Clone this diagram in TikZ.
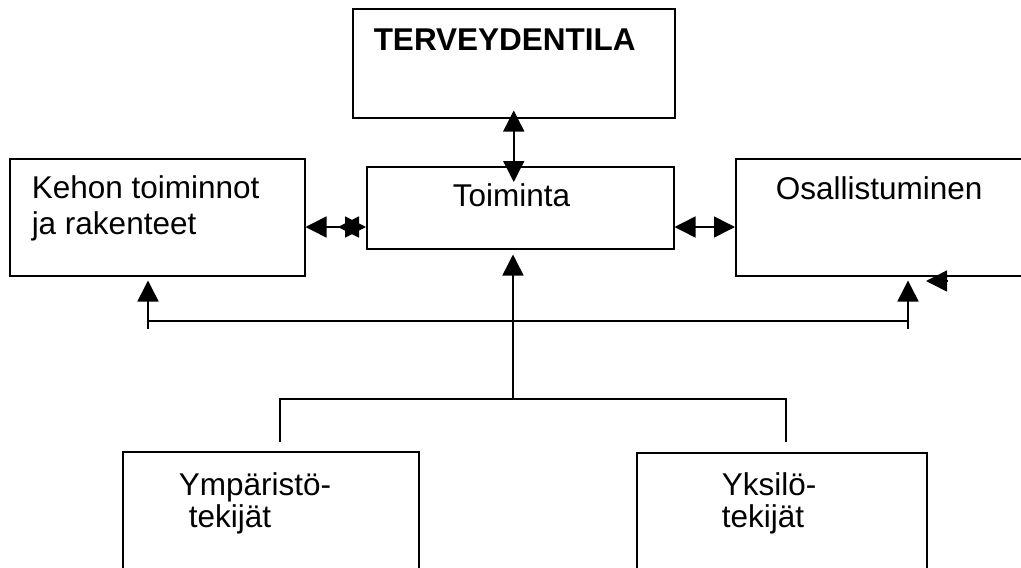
\documentclass[tikz,border=0pt]{standalone}
\usepackage{fontspec}
\setmainfont{Liberation Sans}
\usetikzlibrary{arrows.meta}

\begin{document}
\begin{tikzpicture}[x=1pt,y=-1pt,line width=1.5pt,
  box/.style={draw,rectangle,inner sep=0pt,anchor=north west},
  txt/.style={anchor=base west,inner sep=0pt,align=left,font=\fontsize{31.5}{36}\selectfont},
  arr/.style={-{Triangle[length=21pt,width=21pt]}},
  dbl/.style={{Triangle[length=21pt,width=21pt]}-{Triangle[length=21pt,width=21pt]}}]
\useasboundingbox (0,0) rectangle (1021,568);

\node[box,minimum width=322pt,minimum height=109pt] (terv) at (352,8) {};
\node[box,minimum width=295pt,minimum height=117pt] (kehon) at (9,158) {};
\node[box,minimum width=307pt,minimum height=82pt] (toim) at (366,166) {};
\node[box,minimum width=300pt,minimum height=117pt] (osal) at (735,158) {};
\node[box,minimum width=296pt,minimum height=130pt] (ymp) at (122,451) {};
\node[box,minimum width=290pt,minimum height=130pt] (yks) at (636,452) {};

% multi-line texts sit on the baseline of their last line
\node[txt,font=\fontsize{31.5}{36}\selectfont\bfseries] (tervtxt) at (373,50) {TERVEYDENTILA};
\node[txt] (kehontxt) at (31,234) {Kehon toiminnot\\ja rakenteet};
\node[txt] (toimtxt) at (452,206) {Toiminta};
\node[txt] (osaltxt) at (775,199) {Osallistuminen};
\node[txt] (ymptxt) at (178,527) {Ympäristö-\\[-4pt]\hspace*{10pt}tekijät};
\node[txt] (ykstxt) at (721,527) {Yksilö-\\[-4pt]tekijät};

% connectors
\coordinate (mid) at (0,227);
\coordinate (join) at (513,399);
\coordinate (ly) at (280,442);
\coordinate (ry) at (786,442);
\coordinate (lb) at (148,329);
\coordinate (rb) at (908,329);
\coordinate (hb) at (0,321);
\coordinate (stray) at (947,281);

\draw[dbl] ([yshift=8pt]terv.south) -- ([yshift=-16pt]terv.south |- toim.north);
\draw[dbl] (kehon.east |- mid) -- (toim.west |- mid);
\draw[arr] ([xshift=-8pt]toim.west |- mid) -- ([xshift=-28pt]toim.west |- mid);
\draw[dbl] (toim.east |- mid) -- (osal.west |- mid);

\draw[arr] (join) -- ([yshift=-5pt]toim.south -| join);
\draw (ly) |- (join) -| (ry);

\draw[arr] (lb) -- ([yshift=-4pt]kehon.south -| lb);
\draw[arr] (rb) -- ([yshift=-4pt]osal.south -| rb);
\draw (lb |- hb) -- (rb |- hb);
\draw[arr] (stray) -- ++(-21,0);
\end{tikzpicture}
\end{document}
